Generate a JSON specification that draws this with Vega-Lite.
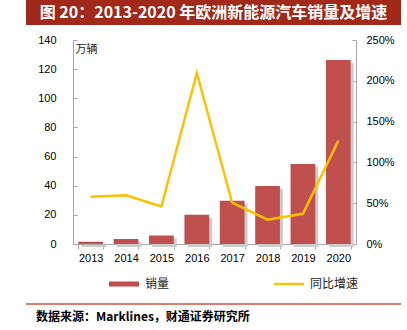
{
  "$schema": "https://vega.github.io/schema/vega-lite/v6.json",
  "padding": {"left": 25, "top": 0, "right": 0, "bottom": 0},
  "background": "white",
  "spacing": 9,
  "config": {
    "view": {"stroke": null},
    "font": "Liberation Sans"
  },
  "resolve": {"scale": {"color": "independent"}, "legend": {"color": "independent"}},
  "vconcat": [
    {
      "width": 375,
      "height": 25,
      "view": {"fill": "#a0291a", "stroke": null},
      "data": {"values": [{"t": "图 20：2013-2020 年欧洲新能源汽车销量及增速"}]},
      "mark": {"type": "text", "color": "white", "fontSize": 16, "fontWeight": "bold", "font": "Noto Sans CJK SC", "baseline": "middle"},
      "encoding": {"text": {"field": "t"}}
    },
    {
      "width": 375,
      "height": 204,
      "data": {"values": [
        {"year": "2013", "sales": 1.6, "growth": 0.58},
        {"year": "2014", "sales": 3.4, "growth": 0.596},
        {"year": "2015", "sales": 5.9, "growth": 0.46},
        {"year": "2016", "sales": 20.1, "growth": 2.096},
        {"year": "2017", "sales": 29.7, "growth": 0.506},
        {"year": "2018", "sales": 39.8, "growth": 0.298},
        {"year": "2019", "sales": 54.9, "growth": 0.37},
        {"year": "2020", "sales": 126.3, "growth": 1.266}
      ]},
      "encoding": {
        "x": {
          "field": "year", "type": "ordinal", "title": null,
          "scale": {"paddingInner": 0.3, "paddingOuter": 0.15, "range": [47, 330]},
          "axis": {"labelAngle": 0, "labelFontSize": 11, "labelColor": "#000", "domainColor": "#a6a6a6", "tickColor": "#a6a6a6", "tickSize": 5, "tickBand": "extent", "labelPadding": 3}
        }
      },
      "layer": [
        {
          "encoding": {
            "y": {
              "field": "sales", "type": "quantitative",
              "scale": {"domain": [0, 140]},
              "axis": {"values": [0, 20, 40, 60, 80, 100, 120, 140], "grid": false, "offset": -47, "labelFontSize": 11, "labelColor": "#000", "domainColor": "#a6a6a6", "tickColor": "#a6a6a6", "tickSize": -4, "labelPadding": 21,
                "title": "万辆", "titleAngle": 0, "titleAlign": "left", "titleBaseline": "top", "titleX": 2, "titleY": 3, "titleFontSize": 11, "titleFontWeight": "normal", "titleColor": "#222", "titleFont": "Noto Sans CJK SC"}
            }
          },
          "layer": [
            {
              "mark": {"type": "bar", "color": "#cccccc", "xOffset": 3, "yOffset": 3, "y2Offset": -3}
            },
            {
              "mark": {"type": "bar", "color": "#c0504d"},
              "encoding": {
                "color": {"datum": "销量", "type": "nominal",
                  "scale": {"domain": ["销量", "同比增速"], "range": ["#c0504d", "#ffc000"]},
                  "legend": {
                    "title": null, "orient": "none", "legendX": 83, "legendY": 229, "direction": "horizontal",
                    "labelFont": "Noto Sans CJK SC", "labelFontSize": 12, "labelColor": "#222", "labelOffset": 6,
                    "symbolSize": 900, "columnPadding": 104,
                    "encode": {"symbols": {"update": {
                      "shape": {"signal": "datum.value === '销量' ? 'M-1,-0.17H1V0.17H-1Z' : 'M-1,-0.08H1V0.08H-1Z'"},
                      "fill": {"signal": "datum.value === '销量' ? '#c0504d' : '#ffc000'"},
                      "stroke": {"value": "transparent"},
                      "strokeWidth": {"value": 0},
                      "opacity": {"value": 1}
                    }}}
                  }
                }
              }
            }
          ]
        },
        {
          "mark": {"type": "line", "strokeWidth": 2.5},
          "encoding": {
            "y": {
              "field": "growth", "type": "quantitative",
              "scale": {"domain": [0, 2.5]},
              "axis": {"orient": "right", "offset": -45, "format": ".0%", "values": [0, 0.5, 1, 1.5, 2, 2.5], "grid": false, "title": null, "labelFontSize": 11, "labelColor": "#000", "domainColor": "#a6a6a6", "tickColor": "#a6a6a6", "tickSize": -4, "labelPadding": 14}
            },
            "color": {"datum": "同比增速", "type": "nominal"}
          }
        }
      ],
      "resolve": {"scale": {"y": "independent"}}
    },
    {
      "width": 375,
      "height": 5,
      "data": {"values": [{"v": 0}]},
      "mark": {"type": "rule", "color": "#c8523c", "strokeWidth": 1.5},
      "encoding": {"y": {"datum": 0, "type": "quantitative", "axis": null, "scale": {"domain": [0, 1]}}},
      "title": {"text": "数据来源：Marklines，财通证券研究所", "orient": "bottom", "anchor": "start", "frame": "group", "offset": 7, "dx": 10, "fontSize": 12, "fontWeight": "bold", "font": "Noto Sans CJK SC", "color": "#000"}
    }
  ]
}
